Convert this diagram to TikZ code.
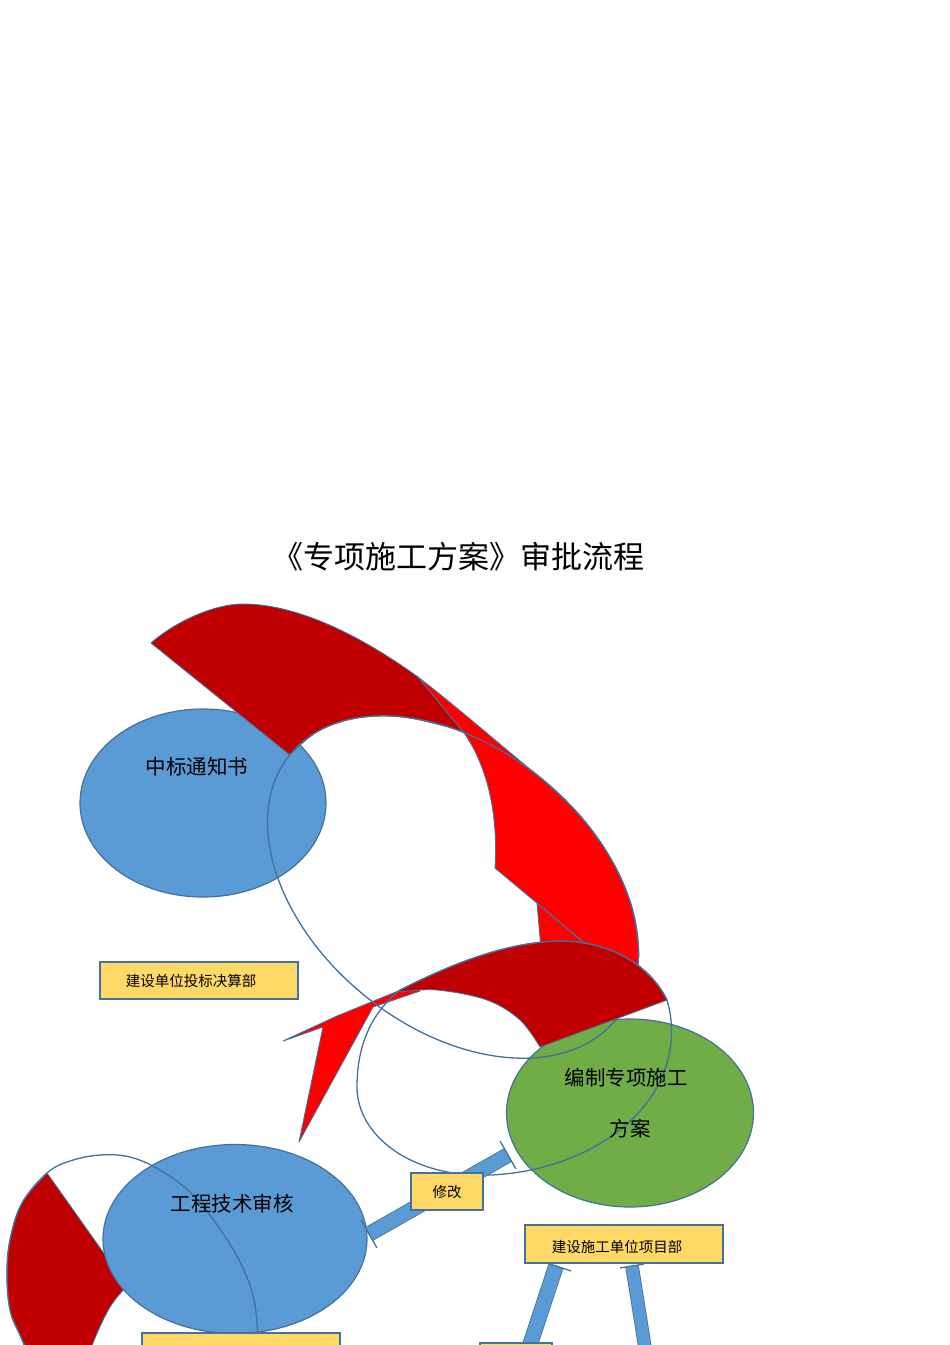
\documentclass[tikz,border=0pt]{standalone}
\usepackage{fontspec}
\newfontfamily\cjk{Noto Sans CJK SC}
\usetikzlibrary{shapes.geometric,calc}
\definecolor{bluefill}{HTML}{5B9BD5}
\definecolor{edge}{HTML}{41719C}
\definecolor{greenfill}{HTML}{70AD47}
\definecolor{boxfill}{HTML}{FFD966}
\definecolor{darkred}{HTML}{C00000}
\definecolor{brightred}{HTML}{FF0000}
\begin{document}
\begin{tikzpicture}[x=1pt,y=-1pt,
  blob/.style={ellipse, draw=edge, line width=1.2pt, inner sep=0pt},
  lbl/.style={font=\cjk\fontsize{20.5}{24}\selectfont, text=black, inner sep=0pt},
  tag/.style={rectangle, draw=edge, line width=1.4pt, fill=boxfill, inner sep=0pt},
  tagtxt/.style={font=\cjk\fontsize{14.5}{17}\selectfont, text=black, inner sep=0pt},
  outline/.style={draw=edge, line width=1.3pt},
  band/.style={draw=edge, line width=0.9pt, line join=round},
  bar/.style={draw=edge, line width=0.8pt, double=bluefill, double distance=14pt},
  tbar/.style={draw=edge, line width=1.3pt},
]
\useasboundingbox (0,0) rectangle (950,1345);
\clip (0,0) rectangle (950,1345);

% title
\node[font=\cjk\fontsize{31}{36}\selectfont, inner sep=0pt] (title) at (458,557) {《专项施工方案》审批流程};

% ellipses (upper)
\node[blob, fill=bluefill, minimum width=246pt, minimum height=188pt] (notice) at (203,803) {};
\node[blob, fill=greenfill, minimum width=247pt, minimum height=188pt] (plan) at (630,1113) {};

% bottom-left red band and ellipse
\path[band, fill=darkred] plot[smooth, tension=0.6] coordinates {(47,1173) (22,1203) (10,1240) (7,1275) (10,1310) (20,1335) (35,1365)} -- (88,1365) -- plot[smooth, tension=0.6] coordinates {(88,1365) (93,1343) (110,1307) (127,1286)} -- cycle;
\node[blob, fill=bluefill, minimum width=264pt, minimum height=189pt] (tech) at (235,1239) {};

% upper red bands
\path[band, fill=darkred] (151,643) .. controls (176,621) and (215,604) .. (243,604)
  .. controls (290,604) and (350,628) .. (418,677) -- (463.8,732.5)
  -- plot[smooth, tension=0.6] coordinates {(463.8,732.5) (447.7,726.8) (399.9,716.7) (355.7,718.2) (318.2,731.2) (289.8,754.9)} -- cycle;
\path[band, fill=brightred] (418,677) .. controls (463,712) and (500.3,745.2) .. (541.1,778.2)
  -- plot[smooth, tension=0.6] coordinates {(541.1,778.2) (580.4,816.1) (610.9,858.9) (630.7,903.5) (638.4,947) (638.2,960.7)}
  -- (638,970) -- (542,960) -- (537,903) -- (495,868) .. controls (498,820) and (490,770) .. (463.8,732.5) -- cycle;
\path[band, fill=brightred] (283,1041) -- (337,1016) -- (413,985) -- (420,991) -- (373,1007) -- (299,1142) -- (323,1027) -- cycle;

% outline ellipse A
\draw[outline, rotate around={-39:(453,887)}] (453,887) ellipse [x radius=210, y radius=140];
\draw[outline] (537,903) -- (583,942);

% second dark red band
\path[band, fill=darkred] (400,990) .. controls (440,970) and (500,942) .. (560,941)
  .. controls (610,941) and (650,965) .. (667,1000) -- (540,1047)
  -- plot[smooth, tension=0.6] coordinates {(540,1047) (520,1020) (487,1000) (437,990) (400,992)} -- cycle;

% outline ellipses B and C
\draw[outline] (560,941) .. controls (610,941) and (650,965) .. (667,1000)
  .. controls (676,1030) and (673,1070) .. (645,1105)
  .. controls (610,1150) and (540,1178) .. (470,1175)
  .. controls (400,1170) and (357,1130) .. (357,1087)
  .. controls (357,1040) and (375,1010) .. (400,990)
  .. controls (440,970) and (500,942) .. (560,941) -- cycle;
\draw[outline] plot[smooth cycle, tension=0.6] coordinates {(47,1173) (70,1161) (100,1155) (130,1157) (160,1170) (190,1192) (215,1222) (240,1262) (254,1300) (258,1345) (255,1375) (230,1405) (150,1425) (70,1400) (35,1365) (20,1335) (10,1310) (7,1275) (10,1240) (22,1203)};

% connectors
\coordinate (a1) at (369,1234);
\coordinate (a2) at (508,1155);
\coordinate (b1) at (556,1266);
\coordinate (b2) at (525,1360);
\coordinate (c1) at (632,1266);
\coordinate (c2) at (647,1360);
\draw[bar] (a1) -- (a2);
\draw[tbar] ($(a1)!16pt!90:(a2)$) -- ($(a1)!16pt!-90:(a2)$);
\draw[tbar] ($(a2)!16pt!90:(a1)$) -- ($(a2)!16pt!-90:(a1)$);
\draw[bar] (b1) -- (b2);
\draw[tbar] ($(b1)!16pt!90:(b2)$) -- ($(b1)!16pt!-90:(b2)$);
\draw[bar, double distance=12pt] (c1) -- (c2);
\draw[tbar] ($(c1)!12pt!90:(c2)$) -- ($(c1)!12pt!-90:(c2)$);

% yellow boxes
\node[tag, minimum width=198pt, minimum height=37pt] (bidbox) at (199,980.5) {};
\node[tagtxt] (bidtxt) at (191,981) {建设单位投标决算部};
\node[tag, minimum width=72pt, minimum height=37pt] (revbox) at (447,1191.5) {};
\node[tagtxt] (revtxt) at (447,1192) {修改};
\node[tag, minimum width=198pt, minimum height=38pt] (sitebox) at (624,1244) {};
\node[tagtxt] (sitetxt) at (617,1247) {建设施工单位项目部};
\node[tag, minimum width=198pt, minimum height=40pt] (lowbox) at (241,1353) {};
\node[tag, minimum width=72pt, minimum height=40pt] (lowbox2) at (516,1363) {};

% ellipse texts
\node[lbl] (noticetxt) at (197,767) {中标通知书};
\node[lbl] (plantxt1) at (626,1078) {编制专项施工};
\node[lbl] (plantxt2) at (630,1129) {方案};
\node[lbl] (techtxt) at (232,1204) {工程技术审核};
\end{tikzpicture}
\end{document}
